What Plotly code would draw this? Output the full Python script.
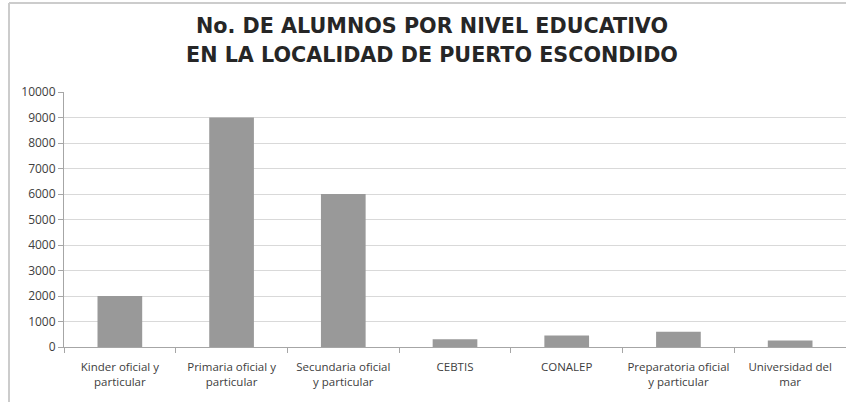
import plotly.graph_objects as go

CATEGORIES = [
    "Kinder oficial y<br>particular",
    "Primaria oficial y<br>particular",
    "Secundaria oficial<br>y particular",
    "CEBTIS",
    "CONALEP",
    "Preparatoria oficial<br>y particular",
    "Universidad del<br>mar",
]
ALUMNOS = [2000, 9000, 6000, 300, 450, 600, 250]
Y_TICKS = list(range(0, 10001, 1000))
Y_TICK_TEXT = [str(v) for v in Y_TICKS]

TITLE_LINES = ["No. DE ALUMNOS POR NIVEL EDUCATIVO",
               "EN LA LOCALIDAD DE PUERTO ESCONDIDO"]

GRID = "#d9d9d9"
AXIS = "#a6a6a6"
BAR = "#999999"
FONT = "Open Sans, Liberation Sans, sans-serif"
TITLE_FONT = "DejaVu Sans, Open Sans, sans-serif"

W, H = 846, 402
L, R, T, B = 64, 0, 92, 55
PW, PH = W - L - R, H - T - B

fig = go.Figure(go.Bar(
    x=CATEGORIES, y=ALUMNOS,
    marker=dict(color=BAR, line=dict(width=0)),
    showlegend=False,
))

fig.update_layout(
    width=W, height=H,
    paper_bgcolor="white", plot_bgcolor="white",
    font=dict(family=FONT, color="#404040", size=11),
    margin=dict(l=L, r=R, t=T, b=B),
    bargap=0.6,
)

# title as two lines placed separately (wide line spacing in the original)
for line, ypx in zip(TITLE_LINES, [26, 55]):
    fig.add_annotation(
        text=f"<b>{line}</b>", showarrow=False,
        xref="paper", yref="paper",
        x=(432 - L) / PW, y=1 + (T - ypx) / PH,
        xanchor="center", yanchor="middle",
        font=dict(family=TITLE_FONT, size=20.7, color="#262626"),
    )

fig.update_yaxes(
    range=[0, 10000], tickvals=Y_TICKS, ticktext=Y_TICK_TEXT,
    showgrid=True, gridcolor=GRID, gridwidth=1,
    showline=True, linecolor=AXIS, linewidth=1,
    ticks="outside", ticklen=5, tickcolor=AXIS,
    tickfont=dict(size=12, color="#404040"),
    zeroline=False,
)
fig.update_xaxes(
    showline=True, linecolor=AXIS, linewidth=1,
    ticks="outside", ticklen=5, tickcolor=AXIS, tickson="boundaries",
    tickfont=dict(size=11.5, color="#404040"),
    ticklabelstandoff=9,
    tickangle=0,
)

# chart frame (left and top edges visible in the crop)
fx = (9 - L) / PW
fy = 1 + (T - 3) / PH
fig.add_shape(type="line", xref="paper", yref="paper",
              x0=fx, x1=fx, y0=-B / PH - 0.1, y1=fy,
              line=dict(color="#cccccc", width=2))
fig.add_shape(type="line", xref="paper", yref="paper",
              x0=fx, x1=1.05, y0=fy, y1=fy,
              line=dict(color="#cccccc", width=2))

fig.write_html("out.html", config={"displayModeBar": False},
               post_script="document.body.style.margin='0';")
